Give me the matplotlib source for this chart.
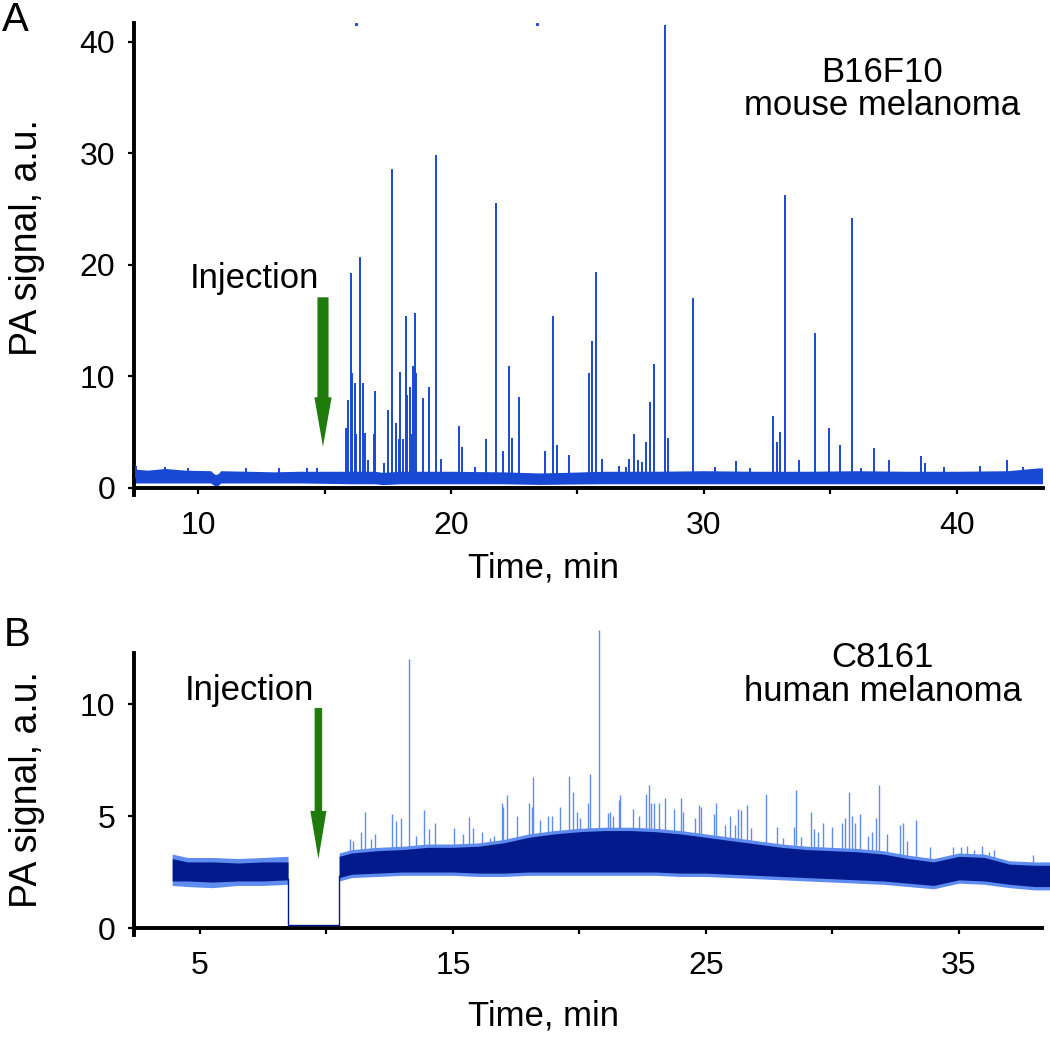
import matplotlib
matplotlib.use("Agg")
import matplotlib.pyplot as plt
import numpy as np

plt.rcParams['font.family'] = ['Liberation Sans', 'DejaVu Sans']

# ---------------- Panel A data (B16F10) ----------------
A_base_t  = [7.47, 8.0, 8.7, 9.5, 10.5, 10.62, 10.7, 10.8, 10.9, 12.0, 13.0, 14.0, 15.0, 16.0, 17.0, 17.3,
             18.0, 20.0, 22.0, 23.5, 24.5, 26.0, 28.0, 30.0, 32.0, 34.0, 36.0, 38.0, 40.0, 42.0, 43.2, 43.38]
A_base_lo = [0.45, 0.45, 0.45, 0.45, 0.45, 0.25, 0.15, 0.25, 0.45, 0.45, 0.45, 0.45, 0.42, 0.38, 0.38, 0.3,
             0.38, 0.38, 0.38, 0.32, 0.35, 0.38, 0.38, 0.38, 0.38, 0.38, 0.38, 0.38, 0.38, 0.38, 0.38, 0.38]
A_base_hi = [1.7, 1.6, 1.75, 1.6, 1.55, 1.3, 1.2, 1.3, 1.55, 1.5, 1.45, 1.5, 1.5, 1.5, 1.5, 1.4,
             1.5, 1.5, 1.45, 1.35, 1.4, 1.5, 1.5, 1.55, 1.5, 1.5, 1.55, 1.5, 1.5, 1.55, 1.8, 1.8]

A_spike_t = [15.84, 15.93, 16.05, 16.09, 16.19, 16.25, 16.40, 16.52, 16.60, 16.72, 16.95, 17.00, 17.35,
             17.50, 17.67, 17.81, 17.93, 17.98, 18.10, 18.22, 18.27, 18.38, 18.44, 18.50, 18.56, 18.62,
             18.89, 19.12, 19.41, 19.60, 20.30, 20.42, 20.95, 21.38, 21.77, 22.06, 22.31, 22.40, 22.69,
             23.72, 24.02, 24.19, 24.65, 25.45, 25.57, 25.74, 25.98, 26.66, 27.05, 27.22, 27.38, 27.55,
             27.71, 27.87, 28.02, 28.47, 28.59, 29.55, 30.45, 31.25, 32.71, 32.88, 33.02, 33.20, 33.77,
             34.39, 34.96, 35.36, 35.85, 36.72, 37.33, 38.59, 38.72, 40.90, 41.98,
             7.55, 8.7, 9.6, 11.9, 13.2, 14.3, 14.7, 26.9, 31.8, 36.2, 39.5, 42.6]
A_spike_h = [5.4, 7.9, 19.3, 10.3, 9.4, 4.8, 20.7, 9.4, 4.9, 2.5, 4.8, 8.7, 2.2,
             7.0, 28.6, 5.8, 4.4, 10.4, 4.4, 15.4, 8.3, 9.1, 4.8, 10.9, 15.7, 10.3,
             8.1, 9.1, 29.9, 2.6, 5.6, 3.7, 1.9, 4.4, 25.6, 3.3, 10.9, 4.5, 8.2,
             3.3, 15.4, 3.9, 3.0, 10.3, 13.2, 19.4, 2.6, 2.0, 2.6, 4.8, 2.5, 2.3,
             4.1, 7.7, 11.1, 41.5, 4.5, 17.0, 1.9, 2.4, 6.5, 4.1, 5.0, 26.3, 2.5,
             13.9, 5.4, 3.9, 24.2, 3.6, 2.5, 2.9, 2.2, 2.0, 2.5,
             1.95, 1.9, 1.8, 1.8, 1.75, 1.8, 1.75, 1.9, 1.8, 1.8, 1.85, 1.9]
A_dot_t = [16.25, 23.4]
A_dot_v = [41.6, 41.6]

# ---------------- Panel B data (C8161) ----------------
B_pre_t        = [3.9, 4.5, 5.5, 6.5, 7.5, 8.48]
B_pre_core_lo  = [2.1, 2.1, 2.05, 2.1, 2.1, 2.15]
B_pre_core_hi  = [3.1, 2.95, 2.95, 2.9, 2.95, 2.95]
B_pre_fr_lo    = [1.9, 1.85, 1.8, 1.9, 1.9, 1.95]
B_pre_fr_hi    = [3.3, 3.15, 3.15, 3.1, 3.15, 3.2]

B_gap_t = [8.48, 8.48, 10.5, 10.5]
B_gap_v = [2.2, 0.12, 0.12, 2.3]

B_post_t       = [10.5, 11, 12, 13, 14, 15, 16, 17, 18, 19, 20, 21, 22, 23, 24, 25, 26, 27, 28, 29,
                  30, 31, 32, 33, 34, 35, 36, 37, 38, 38.6]
B_post_core_lo = [2.25, 2.4, 2.45, 2.5, 2.5, 2.5, 2.45, 2.45, 2.5, 2.5, 2.5, 2.5, 2.5, 2.5, 2.45, 2.45,
                  2.4, 2.35, 2.3, 2.25, 2.2, 2.15, 2.1, 2.0, 1.9, 2.15, 2.1, 1.95, 1.85, 1.85]
B_post_core_hi = [3.2, 3.35, 3.45, 3.5, 3.6, 3.6, 3.65, 3.8, 4.05, 4.2, 4.3, 4.35, 4.35, 4.3, 4.2, 4.05,
                  3.9, 3.75, 3.6, 3.5, 3.45, 3.4, 3.3, 3.1, 2.95, 3.2, 3.15, 2.85, 2.8, 2.8]
B_post_fr_lo   = [2.1, 2.25, 2.3, 2.35, 2.35, 2.35, 2.3, 2.3, 2.35, 2.35, 2.35, 2.35, 2.35, 2.35, 2.3, 2.3,
                  2.25, 2.2, 2.15, 2.1, 2.05, 2.0, 1.95, 1.85, 1.75, 2.0, 1.95, 1.8, 1.7, 1.7]
B_post_fr_hi   = [3.35, 3.5, 3.6, 3.65, 3.75, 3.75, 3.8, 3.95, 4.2, 4.35, 4.45, 4.5, 4.5, 4.45, 4.35, 4.2,
                  4.05, 3.9, 3.75, 3.65, 3.6, 3.55, 3.45, 3.25, 3.1, 3.35, 3.3, 3.0, 2.95, 2.95]

B_spike_t = [10.93, 11.05, 11.35, 11.52, 11.77, 11.93, 12.59, 12.73, 12.96, 13.26, 13.52, 13.85, 14.05,
             14.30, 15.04, 15.38, 15.62, 15.78, 16.15, 16.47, 16.92, 16.98, 17.13, 17.53, 18.00, 18.15,
             18.45, 18.77, 18.90, 19.23, 19.60, 19.76, 19.90, 20.32, 20.40, 20.77, 21.20, 21.55, 21.60,
             22.10, 22.63, 22.73, 23.40, 24.00, 24.57, 24.72, 24.80, 25.30, 25.40, 25.95, 26.28, 26.63,
             27.36, 28.57, 29.14, 29.62, 30.36, 30.50, 30.65, 31.10, 31.72, 31.84, 32.66, 32.78, 33.30,
             35.10, 35.60, 36.20, 37.94,
             16.62, 17.35, 18.12, 20.02, 21.14, 21.33, 22.35, 22.82, 22.95, 23.15, 23.74, 24.10,
             25.75, 26.15, 26.40, 26.80, 27.80, 28.05, 28.48, 28.74, 29.27, 29.44, 30.00, 30.78,
             30.91, 31.41, 31.58, 32.16, 32.96, 33.84, 34.76, 35.31, 35.92, 36.37]
B_spike_h = [3.97, 3.9, 4.3, 5.19, 3.97, 4.2, 5.1, 4.78, 4.93, 12.0, 4.1, 5.27, 4.4,
             4.67, 4.45, 4.2, 4.97, 4.45, 4.3, 4.0, 5.57, 5.4, 5.94, 5.0, 5.6, 6.73,
             4.8, 5.0, 5.0, 5.4, 6.79, 6.06, 5.2, 5.57, 6.86, 13.3, 5.2, 5.7, 5.94,
             5.3, 6.0, 6.38, 5.8, 5.8, 4.9, 5.5, 5.4, 5.1, 5.56, 5.0, 5.3, 5.5,
             5.98, 6.16, 5.2, 4.7, 4.7, 4.9, 6.06, 5.1, 4.9, 6.38, 4.6, 4.7, 4.8,
             3.6, 3.5, 3.4, 3.26,
             4.1, 4.0, 5.4, 4.9, 5.15, 5.0, 5.0, 5.6, 5.6, 5.6, 5.3, 5.2,
             4.6, 4.6, 5.25, 4.45, 4.5, 4.0, 4.5, 4.05, 4.4, 4.3, 4.5, 5.0,
             4.7, 4.1, 4.3, 4.2, 3.9, 3.6, 3.6, 3.65, 3.65, 3.5]

# ---------------- styles ----------------
W, H = 1050, 1038
A_COL = '#1848d4'
B_CORE = '#021a8c'
B_SPK = '#5f8cf0'
GREEN = '#1e7b0c'
SPINE_W = 2.8

fig = plt.figure(figsize=(W / 100, H / 100), dpi=100)


def rect(l, r, top, bot):
    return [l / W, 1 - bot / H, (r - l) / W, (bot - top) / H]


def style_axes(ax):
    for s in ['top', 'right']:
        ax.spines[s].set_visible(False)
    for s in ['left', 'bottom']:
        ax.spines[s].set_linewidth(SPINE_W)
    ax.spines['bottom'].set_position(('data', 0))
    ax.tick_params(axis='both', which='both', direction='out', length=4.5, width=1.6,
                   labelsize=23, color='black')
    ax.tick_params(axis='x', which='both', pad=12)
    ax.tick_params(axis='y', which='both', pad=9)


# ---------------- Panel A ----------------
axA = fig.add_axes(rect(134, 1043, 23, 495))
axA.set_xlim(7.47, 43.40)
axA.set_ylim(-0.628, 41.7)
style_axes(axA)
axA.fill_between(A_base_t, A_base_lo, A_base_hi, color=A_COL, lw=0, zorder=2)
axA.vlines(A_spike_t, 0.9, A_spike_h, color=A_COL, lw=1.4, zorder=3)
axA.plot(A_dot_t, A_dot_v, 's', color=A_COL, ms=1.2, zorder=3)
axA.set_xticks([10, 20, 30, 40])
axA.set_xticks([15, 25, 35], minor=True)
axA.set_yticks([0, 10, 20, 30, 40])
axA.annotate('', xy=(14.94, 3.7), xytext=(14.94, 17.1),
             arrowprops=dict(arrowstyle='simple,head_width=0.62,head_length=1.78,tail_width=0.4',
                             color=GREEN, shrinkA=0, shrinkB=0, mutation_scale=20, lw=0), zorder=5)

# ---------------- Panel B ----------------
axB = fig.add_axes(rect(134, 1050, 625, 935))
axB.set_xlim(2.391, 38.6)
axB.set_ylim(-0.3125, 13.527)
style_axes(axB)
axB.spines['left'].set_bounds(-0.3125, 12.28)
axB.spines['bottom'].set_bounds(2.391, 38.3)
axB.fill_between(B_pre_t, B_pre_fr_lo, B_pre_fr_hi, color=B_SPK, lw=0, zorder=2)
axB.fill_between(B_pre_t, B_pre_core_lo, B_pre_core_hi, color=B_CORE, lw=0, zorder=4)
axB.fill_between(B_post_t, B_post_fr_lo, B_post_fr_hi, color=B_SPK, lw=0, zorder=2)
axB.vlines(B_spike_t, 2.6, B_spike_h, color=B_SPK, lw=1.0, zorder=3)
axB.fill_between(B_post_t, B_post_core_lo, B_post_core_hi, color=B_CORE, lw=0, zorder=4)
axB.plot(B_gap_t, B_gap_v, color=B_CORE, lw=1.0, zorder=4)
axB.set_xticks([5, 15, 25, 35])
axB.set_xticks([10, 20, 30], minor=True)
axB.set_yticks([0, 5, 10])
axB.annotate('', xy=(9.68, 3.08), xytext=(9.68, 9.82),
             arrowprops=dict(arrowstyle='simple,head_width=0.58,head_length=1.73,tail_width=0.27',
                             color=GREEN, shrinkA=0, shrinkB=0, mutation_scale=20, lw=0), zorder=5)

# ---------------- Texts ----------------
def ftext(x, y, s, **kw):
    fig.text(x / W, 1 - y / H, s, **kw)

ftext(2, 31, 'A', fontsize=29, ha='left', va='baseline')
ftext(4, 646, 'B', fontsize=29, ha='left', va='baseline')
ftext(882, 82, 'B16F10', fontsize=25, ha='center', va='baseline')
ftext(882, 115, 'mouse melanoma', fontsize=25, ha='center', va='baseline')
ftext(882, 667, 'C8161', fontsize=25, ha='center', va='baseline')
ftext(883, 701, 'human melanoma', fontsize=25, ha='center', va='baseline')
ftext(254, 288, 'Injection', fontsize=25, ha='center', va='baseline')
ftext(249, 700, 'Injection', fontsize=25, ha='center', va='baseline')
ftext(544, 578, 'Time, min', fontsize=25, ha='center', va='baseline')
ftext(544, 1025, 'Time, min', fontsize=25, ha='center', va='baseline')
ftext(27, 238, 'PA signal, a.u.', fontsize=27, rotation=90, ha='center', va='center')
ftext(27, 790, 'PA signal, a.u.', fontsize=27, rotation=90, ha='center', va='center')

fig.savefig('out.png', dpi=100)
